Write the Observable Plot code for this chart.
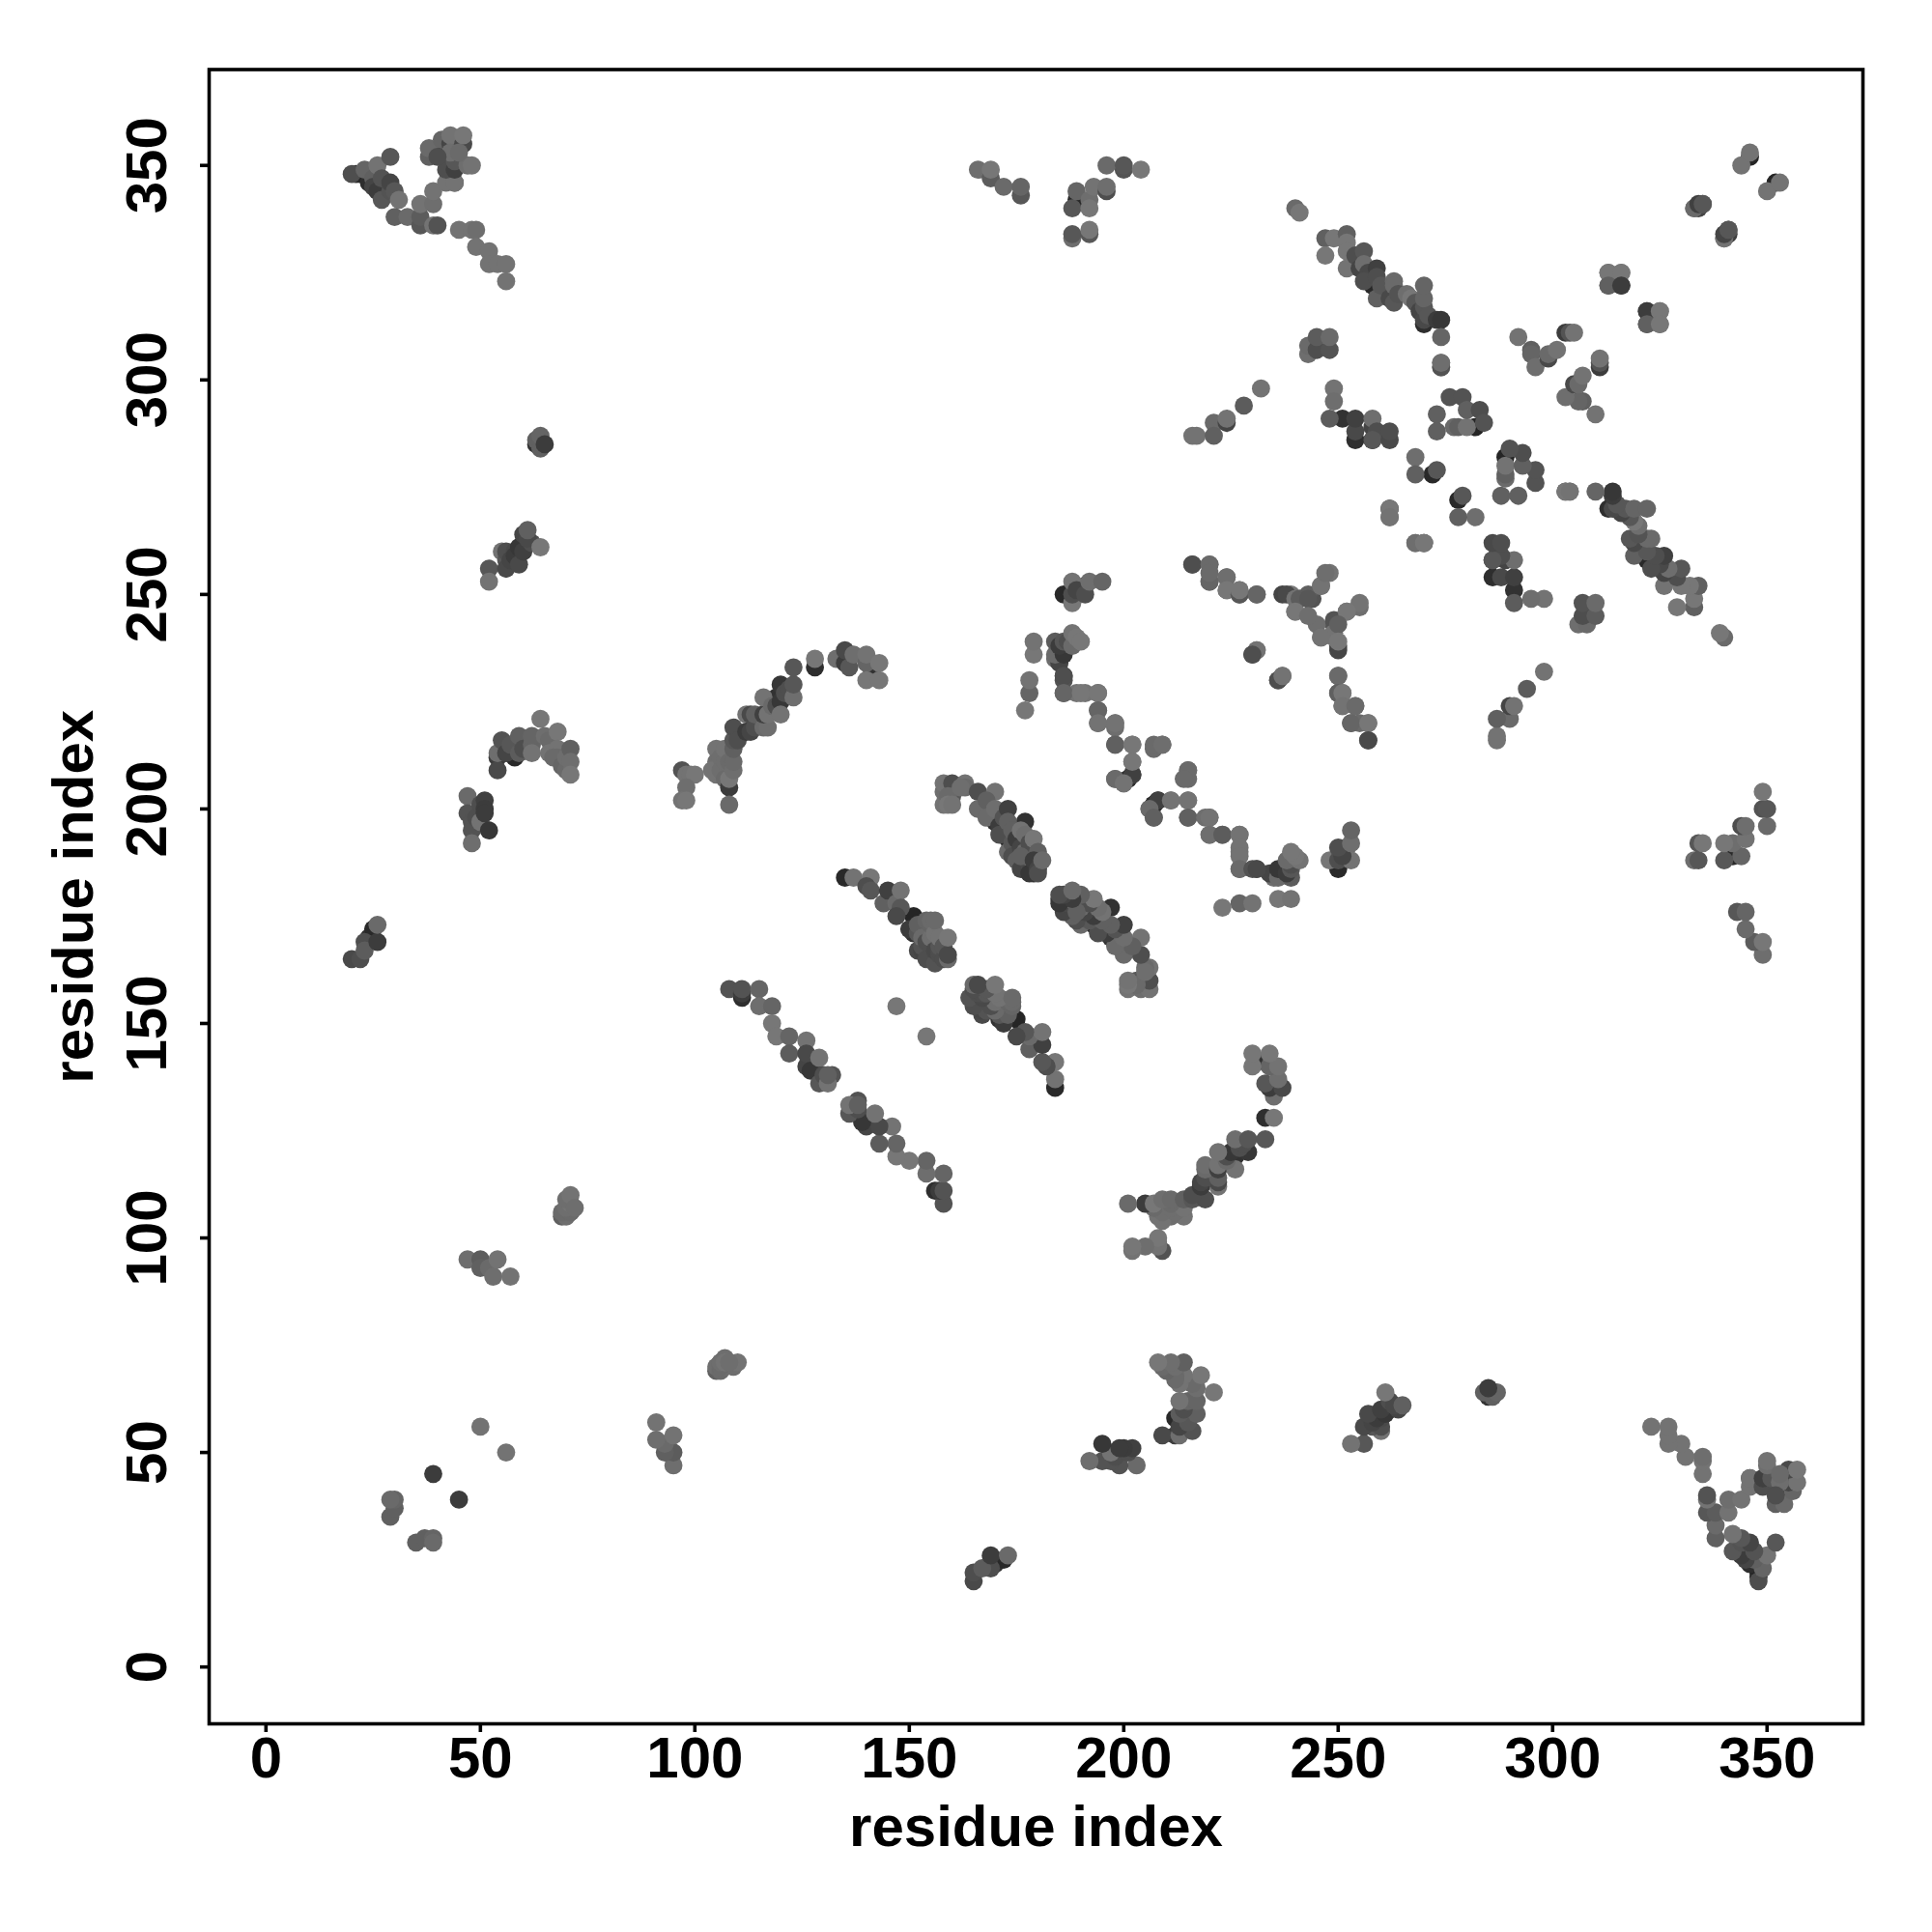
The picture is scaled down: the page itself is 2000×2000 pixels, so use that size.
<!DOCTYPE html>
<html>
<head>
<meta charset="utf-8">
<script src="https://cdn.jsdelivr.net/npm/d3@7"></script>
<script src="https://cdn.jsdelivr.net/npm/@observablehq/plot@0.6"></script>
<style>
html,body{margin:0;padding:0;background:#fff}
svg{display:block}
</style>
</head>
<body>
<div id="chart"></div>
<script>
// Each contact is [residue i, residue j, confidence]; the map shows every contact both ways round.
const axisTicks = [0, 50, 100, 150, 200, 250, 300, 350];
const axisName = "residue index";

const nTermA = [[20,348,.5],[21,348,.15],[22,348,.1],[23,349,.75],[23,348,.05],[24,346,.15],[25,347,.7],[25,345,.4],[26,344,.3],[26,350,.9],[27,342,.6],[27,347,.55],[29,344,.55],[29,346,.4],[30,344,.6],[31,342,.9],[29,352,.6],[30,338,.7],[33,338,.8],[36,336,.6],[36,338,.65],[36,341,.9],[39,341,.85],[39,344,.9],[39,336,.9],[40,336,.55]];
const nTermB = [[44,346,.4],[42,346,.9],[44,346,.9],[38,352,.7],[38,354,.8],[41,354,.2],[41,356,.75],[42,349,.5],[42,352,.2],[43,355,.4],[43,357,.9],[44,349,.35],[44,351,.6],[46,355,.45],[46,357,.95],[47,350,.85],[48,350,.9],[43,353,.85],[40,352,.5],[45,353,.8]];
const nTermC = [[45,335,.9],[48,335,.9],[49,335,.85],[49,331,.9],[52,330,.9],[52,327,.9],[54,327,.9],[56,327,.9],[56,323,.9]];
const helix64 = [[63,285,.2],[63,286,.7],[64,284,.7],[64,287,.75],[65,285,.3]];
const helix60 = [[52,256,.6],[52,253,.9],[55,260,.9],[56,258,.6],[56,256,.45],[56,260,.5],[57,258,.4],[58,260,.45],[58,259,.3],[59,257,.45],[59,261,.25],[60,262,.02],[60,260,.35],[60,264,.4],[62,262,.5],[61,263,.45],[61,265,.7],[64,261,.95]];
const turn200 = [[47,203,.8],[47,199,.55],[48,197,.55],[48,195,.55],[48,192,.85],[49,198,.5],[50,197,.9],[50,201,.5],[51,202,.35],[51,200,.3],[51,199,.3],[52,195,.25]];
const turn215 = [[54,212,.3],[54,209,.45],[54,213,.85],[55,216,.55],[56,213,.4],[57,215,.6],[58,212,.1],[59,213,.65],[59,217,.7],[60,214,.5],[62,215,.75],[62,217,.75],[62,213,.9],[65,217,.85],[66,216,.8],[66,213,.9],[64,221,.95],[68,218,.95],[68,214,.9],[68,212,.8],[67,212,.8],[69,210,.75],[70,209,.8],[70,212,.85],[71,214,.7],[71,211,.85],[71,208,.95]];
const turn170 = [[20,165,.45],[22,165,.5],[23,169,.5],[23,167,.65],[24,170,.2],[25,172,.1],[26,169,.3],[26,173,.8]];
const short105 = [[69,105,.7],[70,105,.85],[69,106,.8],[71,106,.8],[70,107,.85],[71,108,.9],[70,109,.85],[71,110,.9],[72,107,.85],[106,70,.8],[106,71,.85],[107,71,.9],[108,71,.85]];
const short95 = [[47,95,.85],[50,95,.65],[50,93,.7],[52,93,.8],[53,91,.85],[54,95,.9],[57,91,.9]];
const singles = [[50,56,.9],[39,45,.3],[147,154,.95]];
const short37 = [[29,35,.7],[30,37,.7],[30,39,.75],[29,39,.8]];
const sheetA = [[97,209,.55],[98,208,.9],[99,208,.9],[100,208,.95],[98,205,.85],[97,202,.9],[98,202,.95],[105,214,.9],[105,211,.85],[105,208,.9],[104,209,.9],[106,212,.85],[106,209,.85],[107,207,.8],[107,211,.85],[107,214,.9],[108,205,.3],[108,207,.95],[108,211,.8],[109,209,.85],[109,211,.8],[109,214,.7],[109,216,.6],[108,201,.8],[109,219,.5]];
const sheetB = [[110,216,.5],[112,222,.9],[112,218,.3],[113,218,.4],[113,222,.45],[114,219,.5],[114,222,.7],[116,219,.8],[117,219,.85],[116,222,.35],[117,222,.9],[116,226,.9],[118,224,.8],[119,224,.5],[119,226,.2],[120,225,.25],[120,222,.9],[120,229,.25],[121,227,.5],[122,228,.5],[123,226,.85],[123,229,.6],[123,233,.6],[128,233,.15],[128,235,.95],[133,235,.85]];
const sheetC = [[135,235,.15],[135,234,.3],[135,237,.45],[136,233,.6],[137,236,.85],[141,233,.2],[140,234,.75],[140,236,.9],[143,234,.95],[140,230,.95],[143,230,.95]];
const strandA = [[108,158,.55],[111,156,.15],[111,157,.3],[111,158,.55],[115,158,.75],[115,154,.85],[118,154,.75],[118,150,.95],[119,147,.95],[122,147,.75],[122,143,.65],[126,146,.9],[126,140,.4],[126,143,.45],[127,139,.25],[129,142,.9],[129,136,.6],[129,138,.1],[130,138,.5],[132,138,.55]];
const strandC = [[131,136,.9],[131,138,.7]];
const strandD = [[135,184,.1],[137,184,.9],[141,184,.95],[140,182,.5],[141,181,.6],[144,178,.7],[145,181,.35],[147,178,.8],[148,181,.9],[148,177,.6],[147,175,.45],[150,172,.3],[151,171,.2],[151,175,.05],[152,167,.45],[153,167,.4],[152,171,.6],[152,173,.7],[153,168,.55],[153,170,.8],[154,165,.5],[154,169,.5],[154,170,.1],[154,174,.75],[155,170,.85],[155,173,.75],[155,174,.8],[156,164,.55],[156,167,.45],[156,171,.9],[156,174,.8],[157,166,.5],[157,167,.5],[157,168,.6],[157,170,.9],[158,165,.5],[158,168,.6],[159,165,.8],[159,166,.45],[159,170,.95]];
const strandE = [[158,201,.9],[158,204,.85],[158,206,.9],[160,206,.5],[163,206,.9],[163,205,.8],[160,203,.6],[159,203,.8],[159,201,.95],[160,201,.9],[162,205,.85],[166,204,.5],[170,204,.9],[166,200,.8],[168,202,.7],[168,198,.8],[170,200,.85],[170,197,.2],[171,196,.3],[171,194,.5],[172,198,.55],[173,200,.35],[173,197,.7],[177,197,.2],[173,193,.1],[173,190,.8],[174,192,.6],[174,195,.7],[174,189,.5],[175,188,.7],[175,193,.3],[176,186,.4],[176,191,.4],[176,192,.15],[176,195,.9],[177,194,.85],[177,190,.8],[178,192,.5],[178,187,.45],[179,187,.8],[179,193,.95],[176,189,.7],[178,190,.1],[178,185,.25],[180,190,.7],[179,185,.1],[179,188,.3],[180,186,.4],[180,185,.5],[181,188,.8]];
const upperB = [[177,223,.95],[178,227,.75],[178,230,.9],[179,236,.95],[179,239,.9],[184,235,.85],[185,234,.4],[184,236,.8],[184,239,.65],[186,236,.25],[186,237,.2],[185,238,.3],[186,239,.6],[187,239,.5],[188,238,.8],[188,241,.9],[189,240,.95],[190,239,.95],[186,231,.5],[186,227,.75],[190,227,.95],[194,227,.95],[194,223,.75],[194,220,.9],[198,220,.9],[198,215,.7],[202,215,.95],[207,215,.8],[209,215,.85],[202,208,.35],[202,211,.95],[198,207,.8],[200,206,.9],[201,207,.1],[215,209,.8],[214,207,.8],[208,202,.35],[206,200,.8],[207,201,.1],[207,198,.7],[211,202,.9],[215,202,.9],[215,198,.7]];
const upperC = [[219,198,.85],[220,198,.9],[220,194,.85],[223,194,.65],[227,194,.9],[227,191,.9],[227,189,.9],[227,186,.8],[230,186,.55],[231,186,.45]];
const midA = [[231,237,.9],[230,236,.5],[236,230,.5],[237,231,.9]];
const topA = [[166,349,.85],[169,347,.65],[169,349,.95],[172,345,.8],[176,343,.6],[176,345,.75],[189,342,.1],[188,340,.6],[189,344,.75],[192,342,.85],[192,340,.95],[193,345,.9],[196,344,.5],[196,345,.85],[196,350,.8],[200,349,.55],[200,350,.6],[204,349,.95],[188,333,.85],[188,334,.6],[192,334,.6],[192,335,.95],[240,340,.8],[241,339,.95]];
const topB = [[216,287,.9],[217,287,.9],[221,290,.8],[221,287,.7],[224,290,.4],[224,291,.9],[228,294,.65],[232,298,.9]];
const topC = [[216,257,.5],[220,257,.8],[220,253,.75],[220,255,.8],[224,254,.85],[224,251,.95],[227,250,.6],[227,251,.95],[231,250,.75],[186,250,.1],[188,248,.95],[188,250,.5],[188,253,.9],[189,251,.4],[191,250,.5],[191,252,.15],[192,253,.85],[195,253,.75]];
const topD = [[238,250,.45],[240,249,.9],[241,249,.65],[243,249,.6],[240,246,.95],[243,245,.85]];
const bandA = [[246,252,.9],[247,255,.85],[249,244,.55],[255,248,.9],[252,246,.95],[249,241,.9],[250,243,.7],[246,240,.9],[250,237,.4],[250,239,.95],[250,231,.8],[250,227,.7],[251,227,.95],[251,224,.9],[254,224,.8],[253,220,.75],[257,220,.95],[257,216,.45]];
const bandB = [[247,333,.7],[249,333,.95],[247,329,.95],[252,334,.7],[252,332,.95],[252,330,.95],[252,326,.9],[254,329,.5],[256,330,.6],[255,326,.4],[256,327,.85],[257,325,.45],[256,323,.5],[258,322,.1],[259,326,.35],[259,324,.5],[259,319,.7],[260,322,.6],[261,320,.2],[262,319,.45],[263,318,.6],[263,323,.8],[263,322,.8],[264,320,.2],[264,320,.55],[266,320,.85],[267,319,.95],[268,318,.6],[269,316,.4],[270,313,.15],[270,314,.45],[270,317,.6],[270,319,.75],[270,322,.75],[271,315,.6],[273,314,.3],[274,314,.25],[274,310,.75],[274,303,.55],[274,304,.85]];
const bandC = [[243,306,.85],[243,308,.8],[245,307,.5],[245,310,.65],[248,307,.55],[248,310,.8],[249,298,.9],[249,295,.85],[248,291,.65],[251,291,.2],[254,286,.15],[254,288,.45],[254,291,.35],[258,286,.1],[258,289,.4],[258,291,.85],[259,288,.5],[258,286,.6],[262,286,.45],[262,288,.5]];
const bandD = [[273,292,.7],[273,288,.7],[276,296,.55],[279,296,.55],[277,289,.8],[278,289,.7],[280,289,.9],[282,289,.05],[280,293,.7],[283,293,.5],[284,290,.55],[268,282,.85],[268,278,.7],[272,278,.1],[273,279,.6],[262,270,.5],[262,270,.95],[262,268,.9],[268,262,.85],[270,262,.95]];
const bandE = [[292,310,.9],[295,307,.7],[295,306,.75],[296,303,.85],[299,305,.45],[299,306,.8],[301,307,.9],[303,311,.3],[304,311,.55],[305,311,.9],[313,325,.95],[316,325,.95],[313,322,.7],[316,322,.3],[322,316,.3],[325,316,.95],[322,313,.7],[325,313,.95],[333,340,.8],[334,341,.35],[335,341,.6],[340,333,.9],[340,334,.4],[341,335,.6]];
const bandF = [[344,350,.9],[346,352,.05],[346,353,.9],[303,274,.95],[304,274,.9]];

const contacts = [nTermA,nTermB,nTermC,helix64,helix60,turn200,turn215,turn170,short105,short95,singles,short37,sheetA,sheetB,sheetC,strandA,strandC,strandD,strandE,upperB,upperC,midA,topA,topB,topC,topD,bandA,bandB,bandC,bandD,bandE,bandF].flat();

const shade = d3.scaleLinear().domain([0,1]).range(["#202020","#7c7c7c"]);
const dotRadius = 9.4;
const darkFirst = d => d[2] < 0.25 ? 0 : 1;

const chart = Plot.plot({
  width: 2000,
  height: 2000,
  marginLeft: 216,
  marginRight: 72,
  marginTop: 71.5,
  marginBottom: 216,
  style: {fontFamily: "'Liberation Sans', Arial, sans-serif", fontWeight: "bold", fontSize: "60px", background: "#fff", color: "#000"},
  x: {domain: [-13.25, 372.35]},
  y: {domain: [-13.25, 372.35]},
  marks: [
    Plot.dot(contacts, {x: d => d[1], y: d => d[0], r: dotRadius, fill: d => shade(d[2]), sort: darkFirst}),
    Plot.dot(contacts, {x: d => d[0], y: d => d[1], r: dotRadius, fill: d => shade(d[2]), sort: darkFirst}),
    Plot.frame({stroke: "#000", strokeWidth: 3.6}),
    Plot.axisX({ticks: axisTicks, tickSize: 9, tickPadding: 4, strokeWidth: 3.6, fontSize: 60, label: axisName, labelAnchor: "center", labelArrow: "none", labelOffset: 126}),
    Plot.axisY({ticks: axisTicks, tickSize: 9, tickPadding: 36, strokeWidth: 3.6, fontSize: 60, tickRotate: -90, textAnchor: "middle", label: axisName, labelAnchor: "center", labelArrow: "none", labelOffset: 163})
  ]
});
document.getElementById("chart").append(chart);
</script>
</body>
</html>
